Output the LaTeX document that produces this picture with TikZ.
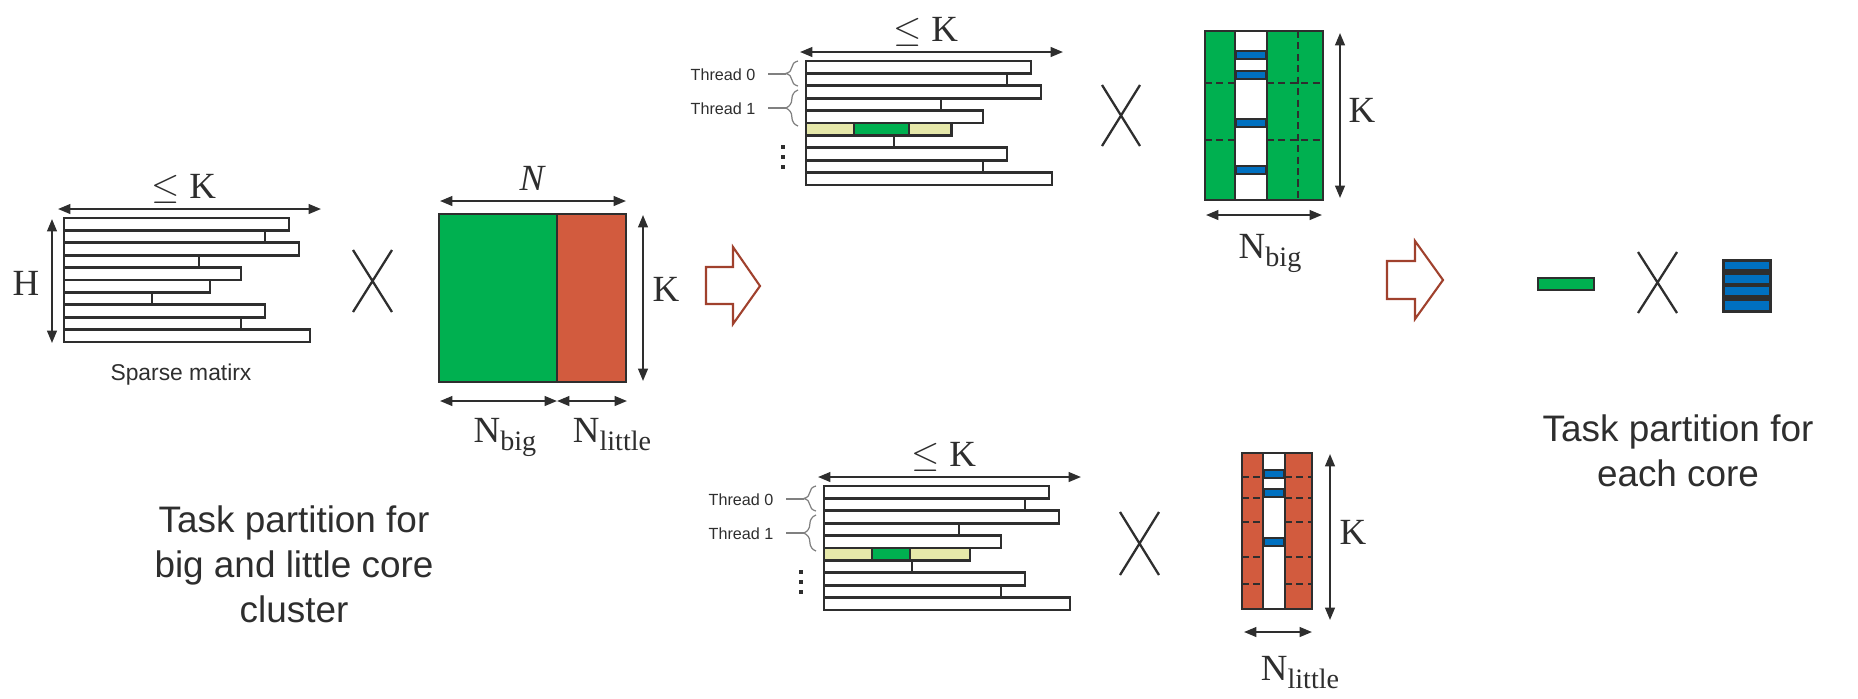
\documentclass[tikz,border=0pt]{standalone}
\usepackage{fontspec}
\newfontfamily\arialfont{Liberation Sans}
\newfontfamily\timesfont{Liberation Serif}
\usetikzlibrary{arrows.meta,decorations.pathreplacing}
\definecolor{mygreen}{HTML}{00B050}
\definecolor{myred}{HTML}{D25B3E}
\definecolor{myblue}{HTML}{0070C0}
\definecolor{myyellow}{HTML}{E6E8AA}
\definecolor{mydark}{HTML}{2E2E2E}
\definecolor{myarrow}{HTML}{A0412D}
\begin{document}
\begin{tikzpicture}[%
            x=0.02cm, y=-0.02cm,
            >={Triangle[length=7pt,width=5.5pt]},
            myrow/.style={draw=mydark, line width=1.6pt},
            mydim/.style={draw=mydark, line width=1.1pt, <->},
            mycross/.style={draw=mydark, line width=1.3pt},
            mydash/.style={draw=mydark, line width=1.1pt, dash pattern=on 4pt off 2.5pt},
            mybar/.style={fill=myblue, draw=mydark, line width=1.4pt},
            mybig/.style={draw=myarrow, line width=1.2pt, line join=miter},
            mymath/.style={text=mydark, inner sep=0pt, font=\timesfont\fontsize{21}{25}\selectfont},
            mythread/.style={text=mydark, inner sep=0pt, font=\arialfont\fontsize{9.2}{11}\selectfont},
            mysmall/.style={text=mydark, inner sep=0pt, font=\arialfont\fontsize{13}{15}\selectfont},
            mytext/.style={text=mydark, inner sep=0pt, align=center, font=\arialfont\fontsize{21}{25.5}\selectfont},
            mybrace/.style={draw=gray, line width=0.7pt},
            sparse/.pic={
                \foreach \w [count=\i from 0] in {225,201,235,135,177,146,88,201,177,246}
                    \draw[myrow] (0,\i*12.4) rectangle ++(\w,12.4);
                \draw[mydim] (-6,-9) -- (257,-9);
                \node[mymath] (-k) at (120,-29) {$\leq$ K};
            },
            threads/.pic={
                \node[mythread] (-t0) at (-83,14) {Thread 0};
                \node[mythread] (-t1) at (-83,48) {Thread 1};
                \draw[mybrace, decorate, decoration={brace,amplitude=7pt}] (-8,25) -- (-8,0);
                \draw[mybrace, decorate, decoration={brace,amplitude=7pt}] (-8,65) -- (-8,29);
                \coordinate (-a0) at (-38,13); \coordinate (-b0) at (-20,13);
                \coordinate (-a1) at (-38,47); \coordinate (-b1) at (-20,47);
                \draw[mybrace] (-a0) -- (-b0);
                \draw[mybrace] (-a1) -- (-b1);
                \foreach \d in {86,96,106}
                    \fill[mydark] (-25,\d-2) rectangle ++(4,4);
            }
    ]
        \newcommand{\subsc}[1]{\raisebox{-5pt}{\fontsize{16}{19}\selectfont #1}}
        \useasboundingbox (0,0) rectangle (1858,698);

        % sparse matrix and dense matrix
        \pic (left) at (64,218) {sparse};
        \draw[mydim] (52,219) -- (52,343);
        \node[mymath] (h) at (26,283) {H};
        \node[mysmall] (sparse) at (181,375) {Sparse matirx};

        \draw[mycross] (353,250) -- (392,312) (392,250) -- (353,312);

        \fill[mygreen] (439,214) rectangle (557,382);
        \fill[myred] (557,214) rectangle (626,382);
        \draw[myrow] (439,214) rectangle (626,382);
        \draw[myrow] (557,214) -- (557,382);
        \draw[mydim] (440,201) -- (626,201);
        \node[mymath] (n) at (532,178) {\itshape N};
        \draw[mydim] (643,215) -- (643,381);
        \node[mymath] (k) at (666,289) {K};
        \draw[mydim] (440,401) -- (557,401);
        \draw[mydim] (557,401) -- (627,401);
        \node[mymath, anchor=base] (nbig) at (505,442) {N\subsc{big}};
        \node[mymath, anchor=base] (nlittle) at (612,442) {N\subsc{little}};

        \node[mytext] (left text) at (294,564) {Task partition for\\big and little core\\cluster};

        \draw[mybig] (706,267) -- (733,267) -- (733,247) -- (760,286) -- (733,324) -- (733,304) -- (706,304) -- cycle;

        % big cores
        \pic (top) at (806,61) {sparse};
        \pic (topth) at (806,61) {threads};
        \begin{scope}[shift={(806,61)}]
            \filldraw[myrow, fill=myyellow] (0,62) rectangle (48,74.4);
            \filldraw[myrow, fill=mygreen] (48,62) rectangle (103,74.4);
            \filldraw[myrow, fill=myyellow] (103,62) rectangle (145,74.4);
        \end{scope}

        \draw[mycross] (1102,85) -- (1140,146) (1140,85) -- (1102,146);

        \fill[mygreen] (1205,31) rectangle (1323,200);
        \fill[white] (1235,31) rectangle (1267,200);
        \foreach \y in {83,140} {
            \draw[mydash] (1205,\y) -- (1235,\y);
            \draw[mydash] (1267,\y) -- (1323,\y);
        }
        \draw[mydash] (1298,31) -- (1298,200);
        \foreach \y in {55,75,123,170}
            \draw[mybar] (1236,\y-4) rectangle (1266,\y+4);
        \draw[myrow] (1205,31) rectangle (1323,200);
        \draw[myrow] (1235,31) -- (1235,200) (1267,31) -- (1267,200);
        \draw[mydim] (1340,33) -- (1340,198);
        \node[mymath] (kbig) at (1362,110) {K};
        \draw[mydim] (1206,215) -- (1322,215);
        \node[mymath, anchor=base] (nbig2) at (1270,258) {N\subsc{big}};

        % little cores
        \pic (bot) at (824,486) {sparse};
        \pic (botth) at (824,486) {threads};
        \begin{scope}[shift={(824,486)}]
            \filldraw[myrow, fill=myyellow] (0,62) rectangle (48,74.4);
            \filldraw[myrow, fill=mygreen] (48,62) rectangle (86,74.4);
            \filldraw[myrow, fill=myyellow] (86,62) rectangle (146,74.4);
        \end{scope}

        \draw[mycross] (1120,512) -- (1159,575) (1159,512) -- (1120,575);

        \fill[myred] (1242,453) rectangle (1312,609);
        \fill[white] (1263,453) rectangle (1285,609);
        \foreach \y in {477,498,522,557,584} {
            \draw[mydash] (1242,\y) -- (1263,\y);
            \draw[mydash] (1285,\y) -- (1312,\y);
        }
        \foreach \y in {474,493,542}
            \draw[mybar] (1264,\y-4) rectangle (1284,\y+4);
        \draw[myrow] (1242,453) rectangle (1312,609);
        \draw[myrow] (1263,453) -- (1263,609) (1285,453) -- (1285,609);
        \draw[mydim] (1330,454) -- (1330,620);
        \node[mymath] (klittle) at (1353,532) {K};
        \draw[mydim] (1244,632) -- (1312,632);
        \node[mymath, anchor=base] (nlittle2) at (1300,680) {N\subsc{little}};

        % each core
        \draw[mybig] (1387,261) -- (1415,261) -- (1415,241) -- (1443,280) -- (1415,319) -- (1415,299) -- (1387,299) -- cycle;
        \draw[mybar, fill=mygreen] (1538,278) rectangle (1594,290);
        \draw[mycross] (1638,252) -- (1677,313) (1677,252) -- (1638,313);
        \fill[mydark] (1722,259) rectangle (1772,313);
        \foreach \a/\b in {262/269,275/283,287/295,301/310}
            \fill[myblue] (1725,\a) rectangle (1769,\b);

        \node[mytext] (right text) at (1678,451) {Task partition for\\each core};
    \end{tikzpicture}
\end{document}
